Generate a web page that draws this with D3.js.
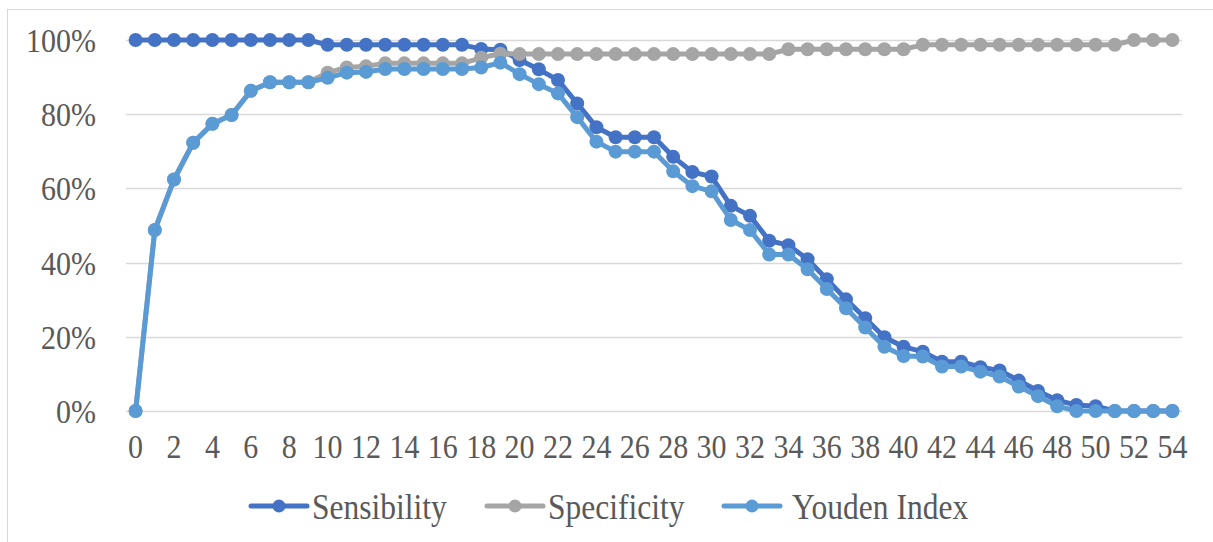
<!DOCTYPE html>
<html>
<head>
<meta charset="utf-8">
<script src="https://cdn.jsdelivr.net/npm/d3@7"></script>
<style>
	html, body { margin: 0; padding: 0; background: #fff; }
	svg { display: block; }
	text { font-family: 'Liberation Serif', 'Times New Roman', serif; fill: #595959; }
</style>
</head>
<body>
<svg id="chart"></svg>
<script>
const WIDTH = 1213;
const HEIGHT = 542;

// cut-off points 0..54
const categories = d3.range(0, 55);
const xTickLabels = d3.range(0, 55, 2);
const yTicks = [0, 0.2, 0.4, 0.6, 0.8, 1];

// values in %
const sensibility = [
	100, 100, 100, 100, 100, 100, 100, 100, 100, 100,
	98.7, 98.7, 98.7, 98.7, 98.7, 98.7, 98.7, 98.7, 97.6, 97.4,
	94.6, 92.1, 89.2, 82.9, 76.5, 73.8, 73.8, 73.8, 68.5, 64.4,
	63.2, 55.3, 52.6, 45.9, 44.7, 40.9, 35.5, 30.1, 25.0, 19.9,
	17.3, 16.0, 13.3, 13.3, 11.8, 10.9, 8.2, 5.4, 2.9, 1.6,
	1.3, 0, 0, 0, 0
];
const specificity = [
	0, 48.8, 62.4, 72.3, 77.4, 79.8, 86.3, 88.6, 88.6, 88.6,
	91.2, 92.6, 92.9, 93.7, 93.7, 93.7, 93.7, 93.7, 95.2, 96.3,
	96.2, 96.2, 96.2, 96.2, 96.2, 96.2, 96.2, 96.2, 96.2, 96.2,
	96.2, 96.2, 96.2, 96.2, 97.5, 97.5, 97.5, 97.5, 97.5, 97.5,
	97.5, 98.7, 98.7, 98.7, 98.7, 98.7, 98.7, 98.7, 98.7, 98.7,
	98.7, 98.7, 100, 100, 100
];
const youden = [
	0, 48.8, 62.4, 72.3, 77.4, 79.8, 86.3, 88.6, 88.6, 88.6,
	89.8, 91.2, 91.4, 92.2, 92.2, 92.2, 92.2, 92.2, 92.6, 93.9,
	90.8, 88.1, 85.6, 79.2, 72.6, 69.9, 69.9, 69.9, 64.6, 60.6,
	59.2, 51.5, 48.8, 42.2, 42.2, 38.2, 32.9, 27.7, 22.5, 17.3,
	14.8, 14.7, 12.0, 12.0, 10.6, 9.3, 6.6, 4.0, 1.3, 0,
	0, 0, 0, 0, 0
];

const seriesNames = ['Sensibility', 'Specificity', 'Youden Index'];
const seriesColors = ['#4472C4', '#A5A5A5', '#5B9BD5'];
const seriesValues = [sensibility, specificity, youden];

const FONT_SIZE = 30;
const LEGEND_FONT_SIZE = 31.5;
const STRETCH = 1.12; // text in the picture is a little taller than wide
const plot = { left: 126, right: 1182, top: 40, bottom: 411 };

const svg = d3.select('#chart')
	.attr('width', WIDTH)
	.attr('height', HEIGHT);

// chart area border
svg.append('rect')
	.attr('x', 7.5)
	.attr('y', 9.5)
	.attr('width', WIDTH + 20)
	.attr('height', HEIGHT + 20)
	.attr('fill', 'none')
	.attr('stroke', '#D9D9D9')
	.attr('stroke-width', 1);

const x = d3.scaleBand()
	.domain(categories)
	.range([plot.left, plot.right]);
const xc = (d) => x(d) + x.bandwidth() / 2;

const y = d3.scaleLinear()
	.domain([0, 1])
	.range([plot.bottom, plot.top]);

// gridlines
svg.append('g')
	.selectAll('line')
	.data(yTicks)
	.enter()
	.append('line')
	.attr('x1', plot.left)
	.attr('x2', plot.right)
	.attr('y1', (d) => Math.round(y(d)) + 0.5)
	.attr('y2', (d) => Math.round(y(d)) + 0.5)
	.attr('stroke', '#D9D9D9')
	.attr('stroke-width', 1.3);

// y axis labels
const yAxis = d3.axisLeft(y)
	.tickValues(yTicks)
	.tickFormat(d3.format('.0%'))
	.tickSize(0)
	.tickPadding(0);
const yAxisG = svg.append('g')
	.attr('transform', 'translate(96,0)')
	.call(yAxis);
yAxisG.select('.domain').remove();
yAxisG.selectAll('text')
	.attr('font-size', FONT_SIZE)
	.attr('font-family', null)
	.attr('dy', null)
	.attr('y', 11.5 / STRETCH)
	.attr('transform', `scale(1,${STRETCH})`);

// x axis labels
const xAxis = d3.axisBottom(x)
	.tickValues(xTickLabels)
	.tickSize(0)
	.tickPadding(0);
const xAxisG = svg.append('g')
	.attr('transform', `translate(0,${plot.bottom})`)
	.call(xAxis);
xAxisG.select('.domain').remove();
xAxisG.selectAll('text')
	.attr('font-size', FONT_SIZE)
	.attr('font-family', null)
	.attr('dy', null)
	.attr('y', 47.5 / STRETCH)
	.attr('transform', `scale(1,${STRETCH})`);

// series
const line = d3.line()
	.x((d, i) => xc(categories[i]))
	.y((d) => y(d / 100));

seriesValues.forEach((values, s) => {
	const g = svg.append('g').attr('class', 'series');
	g.append('path')
		.datum(values)
		.attr('d', line)
		.attr('fill', 'none')
		.attr('stroke', seriesColors[s])
		.attr('stroke-width', 5)
		.attr('stroke-linejoin', 'round')
		.attr('stroke-linecap', 'round');
	g.selectAll('circle')
		.data(values)
		.enter()
		.append('circle')
		.attr('cx', (d, i) => xc(categories[i]))
		.attr('cy', (d) => y(d / 100))
		.attr('r', 7)
		.attr('fill', seriesColors[s]);
});

// legend
const legendX = [251, 487, 724];
const legend = svg.append('g')
	.selectAll('g')
	.data(seriesNames)
	.enter()
	.append('g')
	.attr('transform', (d, i) => `translate(${legendX[i]},506)`);
legend.append('line')
	.attr('x1', 0)
	.attr('x2', 56)
	.attr('stroke', (d, i) => seriesColors[i])
	.attr('stroke-width', 5)
	.attr('stroke-linecap', 'round');
legend.append('circle')
	.attr('cx', 28)
	.attr('r', 6.5)
	.attr('fill', (d, i) => seriesColors[i]);
legend.append('text')
	.attr('x', (d, i) => (i === 2 ? 68 : 61))
	.attr('y', 12.5 / STRETCH)
	.attr('transform', `scale(1,${STRETCH})`)
	.attr('font-size', LEGEND_FONT_SIZE)
	.text((d) => d);
</script>
</body>
</html>
